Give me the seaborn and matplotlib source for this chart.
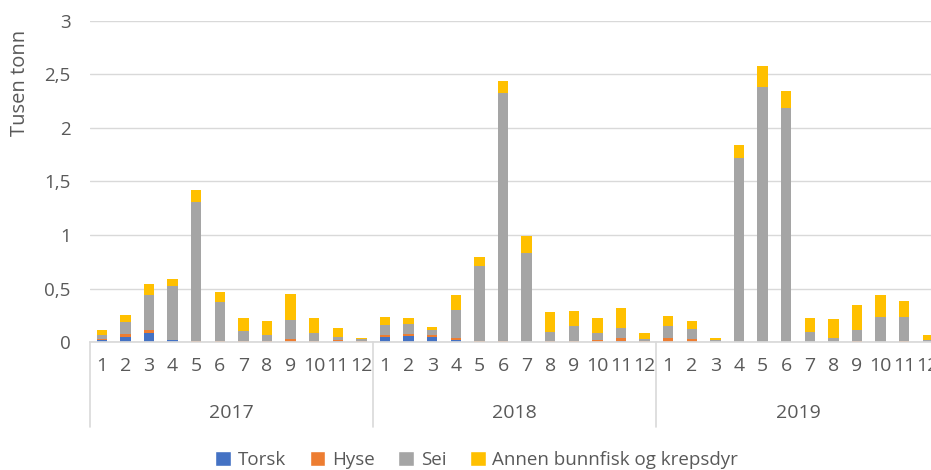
import numpy as np
import pandas as pd
import seaborn as sns
import matplotlib.pyplot as plt
from matplotlib.patches import Patch

# ============ data (tusen tonn per month) ============
years = ["2017", "2018", "2019"]
months = [str(m) for m in range(1, 13)]

torsk = [0.02, 0.05, 0.08, 0.015, 0, 0, 0, 0, 0, 0, 0.01, 0,
         0.045, 0.055, 0.045, 0.02, 0, 0, 0, 0, 0, 0, 0.012, 0,
         0, 0, 0, 0, 0, 0, 0, 0, 0, 0, 0, 0]
hyse = [0.01, 0.025, 0.03, 0, 0.01, 0.01, 0.01, 0.01, 0.03, 0.01, 0.01, 0.01,
        0.02, 0.022, 0.02, 0.02, 0.01, 0.005, 0, 0.01, 0.01, 0.022, 0.028, 0.01,
        0.035, 0.025, 0, 0, 0, 0, 0, 0, 0.01, 0, 0.01, 0]
sei = [0.04, 0.11, 0.33, 0.51, 1.30, 0.36, 0.09, 0.06, 0.18, 0.07, 0.03, 0.015,
       0.095, 0.095, 0.045, 0.26, 0.70, 2.32, 0.83, 0.08, 0.14, 0.06, 0.095, 0.02,
       0.11, 0.10, 0.015, 1.72, 2.38, 2.19, 0.09, 0.035, 0.10, 0.23, 0.22, 0.02]
annen = [0.045, 0.065, 0.10, 0.06, 0.11, 0.10, 0.12, 0.13, 0.24, 0.14, 0.08, 0.015,
         0.07, 0.05, 0.03, 0.14, 0.08, 0.11, 0.16, 0.19, 0.14, 0.14, 0.18, 0.05,
         0.10, 0.07, 0.025, 0.12, 0.20, 0.16, 0.13, 0.18, 0.24, 0.21, 0.15, 0.05]

arter = ["Torsk", "Hyse", "Sei", "Annen bunnfisk og krepsdyr"]
farger = {"Torsk": "#4472C4", "Hyse": "#ED7D31", "Sei": "#A5A5A5",
          "Annen bunnfisk og krepsdyr": "#FFC000"}

# long format for seaborn
n = len(sei)
df = pd.concat([
    pd.DataFrame({"idx": np.arange(n), "tonn": vals, "art": art})
    for art, vals in zip(arter, [torsk, hyse, sei, annen])
], ignore_index=True)

sns.set_theme(style="white")
plt.rcParams["font.family"] = ["Open Sans", "DejaVu Sans"]
grey = "#595959"
light = "#D9D9D9"

fig = plt.figure(figsize=(9.31, 4.70), dpi=100)
# axes runs a bit past the right edge, like the cut-off original
ax = fig.add_axes([90 / 931, 128 / 470, 849.6 / 931, 321 / 470])

# seaborn stacks the last hue level at the bottom -> reverse order
sns.histplot(data=df, x="idx", weights="tonn", hue="art",
             hue_order=arter[::-1], palette=farger, multiple="stack",
             discrete=True, shrink=0.44, linewidth=0, alpha=1,
             legend=False, ax=ax)

ax.set_xlim(-0.5, n - 0.5)
ax.set_ylim(0, 3)
yt = np.arange(0, 3.01, 0.5)
ax.set_yticks(yt)
ax.set_yticklabels([f"{v:g}".replace(".", ",") for v in yt], color=grey, fontsize=13.5)
ax.yaxis.grid(True, color=light, linewidth=1)
ax.set_axisbelow(True)
ax.tick_params(axis="y", length=0, pad=14)

ax.set_xticks(np.arange(n))
ax.set_xticklabels(months * 3, color=grey, fontsize=14)
ax.tick_params(axis="x", length=0, pad=11)
ax.set_xlabel("")
ax.set_ylabel("")

for s in ["top", "right", "left"]:
    ax.spines[s].set_visible(False)
ax.spines["bottom"].set_color(light)

# year groups and separators
tr = ax.get_xaxis_transform()
for i, yr in enumerate(years):
    ax.text(i * 12 + 5.5, -0.221, yr, transform=tr, ha="center", va="center",
            color=grey, fontsize=14, clip_on=False)
    ax.plot([i * 12 - 0.5, i * 12 - 0.5], [0, -0.265], transform=tr,
            color=light, linewidth=1.2, clip_on=False)

fig.text(20 / 931, 1 - 83 / 470, "Tusen tonn", rotation=90, ha="center",
         va="center", color=grey, fontsize=14.5)

handles = [Patch(facecolor=farger[a], label=a) for a in arter]
fig.legend(handles=handles, loc="center", bbox_to_anchor=(0.512, 0.022),
           ncol=4, frameon=False, fontsize=13.5, handlelength=0.85,
           handleheight=0.85, handletextpad=0.35, columnspacing=1.25,
           labelcolor=grey)

fig.savefig("out.png", dpi=100)
